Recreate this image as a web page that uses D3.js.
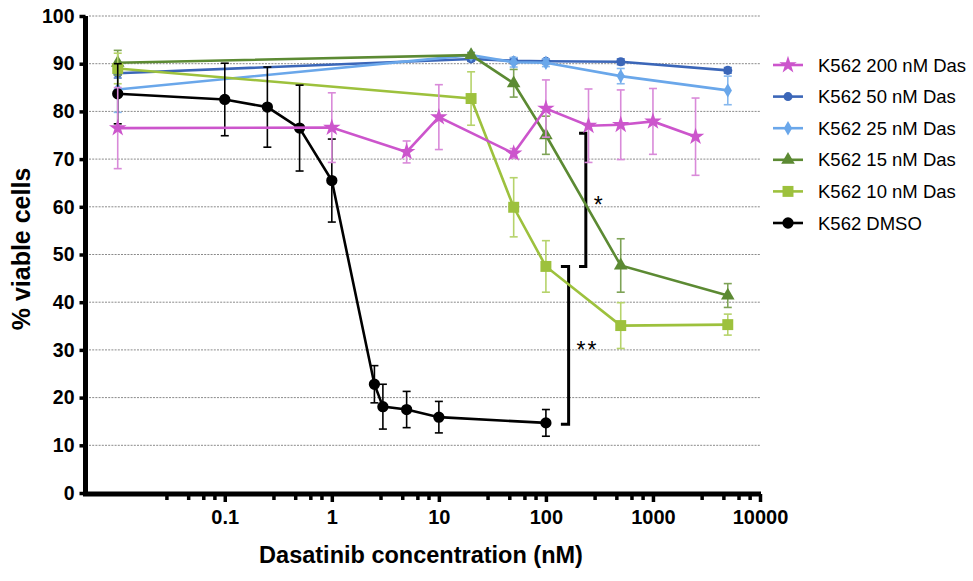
<!DOCTYPE html>
<html>
<head>
<meta charset="utf-8">
<script src="https://cdn.jsdelivr.net/npm/d3@7"></script>
<style>
  html, body { margin: 0; padding: 0; background: #fff; }
  svg { display: block; font-family: "Liberation Sans", Arial, Helvetica, sans-serif; }
</style>
</head>
<body>
<svg id="chart" width="973" height="581"></svg>
<script>
// ---------------- data ----------------
const seriesNames = ["K562 200 nM Das", "K562 50 nM Das", "K562 25 nM Das", "K562 15 nM Das", "K562 10 nM Das", "K562 DMSO"];

const conc200 = [0.01, 1, 5, 10, 50, 100, 250, 500, 1000, 2500];
const mean200 = [76.5, 76.6, 71.5, 78.8, 71.2, 80.6, 77.0, 77.2, 77.9, 74.7];
const err200  = [8.5, 7.3, 2.3, 6.8, 1.0, 6.0, 7.7, 7.3, 6.9, 8.1];

const conc50 = [0.01, 20, 50, 100, 500, 5000];
const mean50 = [88.0, 91.0, 90.6, 90.5, 90.4, 88.6];
const err50  = [1.0, 0.5, 0.6, 0.5, 0.6, 0.6];

const conc25 = [0.01, 20, 50, 100, 500, 5000];
const mean25 = [84.6, 91.8, 90.3, 90.2, 87.4, 84.4];
const err25  = [4.8, 0.6, 1.0, 0.8, 1.6, 3.0];

const conc15 = [0.01, 20, 50, 100, 500, 5000];
const mean15 = [90.2, 91.8, 85.9, 75.0, 47.7, 41.4];
const err15  = [2.6, 0.5, 2.9, 4.0, 5.6, 2.5];

const conc10 = [0.01, 20, 50, 100, 500, 5000];
const mean10 = [89.0, 82.7, 59.9, 47.5, 35.1, 35.3];
const err10  = [3.2, 5.6, 6.2, 5.4, 4.8, 2.2];

const concDMSO = [0.01, 0.1, 0.25, 0.5, 1, 2.5, 3, 5, 10, 100];
const meanDMSO = [83.7, 82.5, 80.9, 76.5, 65.5, 22.8, 18.1, 17.5, 15.9, 14.7];
const errDMSO  = [6.3, 7.6, 8.4, 9.0, 8.7, 3.9, 4.7, 3.8, 3.3, 2.8];

const xMajorTicks = [0.1, 1, 10, 100, 1000, 10000];
const xMinorMult = [2.85, 4.55, 6.3, 8.0];
const yTicks = [0, 10, 20, 30, 40, 50, 60, 70, 80, 90, 100];

// significance brackets: [x of vertical, x of stub ends, y top, y bottom, label]
const bracketX    = [236, 163];
const bracketStub = [204, 138];
const bracketTop  = [75.4, 47.5];
const bracketBot  = [47.5, 14.4];
const bracketLbl  = ["*", "**"];

// ---------------- styles ----------------
const styles = {
  "K562 200 nM Das": {line: "#cc55cc", err: "#d98ad9", sym: d3.symbolStar, size: 95},
  "K562 50 nM Das":  {line: "#3b66b8", err: "#4d76c0", sym: d3.symbolCircle, size: 64},
  "K562 25 nM Das":  {line: "#6aa7ea", err: "#86b8ee", sym: d3.symbolDiamond, size: 60},
  "K562 15 nM Das":  {line: "#5c8a33", err: "#7ea356", sym: d3.symbolTriangle, size: 80},
  "K562 10 nM Das":  {line: "#9dc13d", err: "#b6d36b", sym: d3.symbolSquare, size: 120},
  "K562 DMSO":       {line: "#000000", err: "#000000", sym: d3.symbolCircle, size: 100}
};

const seriesData = {
  "K562 200 nM Das": [conc200, mean200, err200],
  "K562 50 nM Das":  [conc50, mean50, err50],
  "K562 25 nM Das":  [conc25, mean25, err25],
  "K562 15 nM Das":  [conc15, mean15, err15],
  "K562 10 nM Das":  [conc10, mean10, err10],
  "K562 DMSO":       [concDMSO, meanDMSO, errDMSO]
};

// ---------------- scales ----------------
const svg = d3.select("#chart");
const x = d3.scaleLog().domain([0.005, 10000]).range([85.5, 760]);
const y = d3.scaleLinear().domain([0, 100]).range([493, 16]);

// gridlines
svg.append("g").selectAll("line")
  .data(yTicks.filter(d => d > 0))
  .join("line")
  .attr("x1", 89).attr("x2", x(10000))
  .attr("y1", d => y(d)).attr("y2", d => y(d))
  .attr("stroke", "#8a8a8a").attr("stroke-width", 1)
  .attr("stroke-dasharray", "2,1.2");

// brackets
const bg = svg.append("g");
bracketLbl.forEach((lbl, i) => {
  const xv = x(bracketX[i]), xs = x(bracketStub[i]);
  const yt = y(bracketTop[i]), yb = y(bracketBot[i]);
  bg.append("path")
    .attr("d", `M${xs},${yt}H${xv}V${yb}H${xs}`)
    .attr("fill", "none").attr("stroke", "#000").attr("stroke-width", 3);
  bg.append("text")
    .attr("x", xv + 8).attr("y", (yt + yb) / 2 + 13)
    .attr("font-size", 23).attr("letter-spacing", 2).attr("fill", "#000")
    .text(lbl);
});

// series
const drawOrder = ["K562 50 nM Das", "K562 25 nM Das", "K562 15 nM Das", "K562 10 nM Das", "K562 DMSO", "K562 200 nM Das"];
const line = d3.line().x(d => x(d[0])).y(d => y(d[1]));

drawOrder.forEach(name => {
  const [cx, my, ey] = seriesData[name];
  const st = styles[name];
  const pts = cx.map((c, i) => [c, my[i], ey[i]]);
  const g = svg.append("g");
  // error bars
  const eb = g.append("g").attr("stroke", st.err).attr("stroke-width", 1.6);
  pts.forEach(p => {
    const px = x(p[0]);
    eb.append("line").attr("x1", px).attr("x2", px).attr("y1", y(p[1] + p[2])).attr("y2", y(p[1] - p[2]));
    eb.append("line").attr("x1", px - 4).attr("x2", px + 4).attr("y1", y(p[1] + p[2])).attr("y2", y(p[1] + p[2]));
    eb.append("line").attr("x1", px - 4).attr("x2", px + 4).attr("y1", y(p[1] - p[2])).attr("y2", y(p[1] - p[2]));
  });
  g.append("path").attr("d", line(pts))
    .attr("fill", "none").attr("stroke", st.line).attr("stroke-width", 2.6);
  g.selectAll("path.m").data(pts).join("path").attr("class", "m")
    .attr("transform", d => `translate(${x(d[0])},${y(d[1])})`)
    .attr("d", d3.symbol(st.sym, st.size))
    .attr("fill", st.line);
});

// axes
const yAxis = svg.append("g").attr("transform", `translate(${x(0.005)},0)`)
  .call(d3.axisLeft(y).tickValues(yTicks).tickSize(6).tickPadding(5).tickFormat(d3.format("d")));
yAxis.select(".domain").attr("stroke-width", 5).attr("d", `M0,${y(100)}V${y(0) + 2.5}`);
yAxis.selectAll(".tick line").attr("stroke-width", 3.5);
yAxis.selectAll("text").attr("font-size", 19.5).attr("font-weight", "bold").attr("fill", "#000");

const minorVals = [];
[0.01, 0.1, 1, 10, 100, 1000].forEach(b => xMinorMult.forEach(m => minorVals.push(b * m)));

const xMinor = svg.append("g").attr("transform", `translate(0,${y(0) + 1})`)
  .call(d3.axisBottom(x).tickValues(minorVals).tickSize(6).tickFormat(""));
xMinor.select(".domain").remove();
xMinor.selectAll(".tick line").attr("stroke-width", 3.5);

const xAxis = svg.append("g").attr("transform", `translate(0,${y(0) + 1})`)
  .call(d3.axisBottom(x).tickValues(xMajorTicks).tickSize(8).tickPadding(8).tickFormat(d3.format("d")));
xAxis.select(".domain").attr("stroke-width", 5).attr("d", `M${x(0.005) - 2.5},0H${x(10000) + 1}`);
xAxis.selectAll(".tick line").attr("stroke-width", 3.5);
xAxis.selectAll("text").attr("font-size", 20).attr("font-weight", "bold").attr("fill", "#000")
  .text(d => d < 1 ? String(d) : d3.format("d")(d));

// axis titles
svg.append("text")
  .attr("x", 421).attr("y", 563)
  .attr("text-anchor", "middle").attr("font-size", 23.5).attr("font-weight", "bold")
  .text("Dasatinib concentration (nM)");
svg.append("text")
  .attr("transform", "translate(30,249) rotate(-90)")
  .attr("text-anchor", "middle").attr("font-size", 25).attr("font-weight", "bold")
  .text("% viable cells");

// legend
const lg = svg.append("g");
seriesNames.forEach((name, i) => {
  const st = styles[name];
  const ly = 65 + i * 31.6;
  lg.append("line").attr("x1", 773).attr("x2", 803).attr("y1", ly).attr("y2", ly)
    .attr("stroke", st.line).attr("stroke-width", 2.6);
  lg.append("path").attr("transform", `translate(788,${ly})`)
    .attr("d", d3.symbol(st.sym, st.size)).attr("fill", st.line);
  lg.append("text").attr("x", 818).attr("y", ly + 6.5)
    .attr("font-size", 18.5).attr("fill", "#000").text(name);
});
</script>
</body>
</html>
